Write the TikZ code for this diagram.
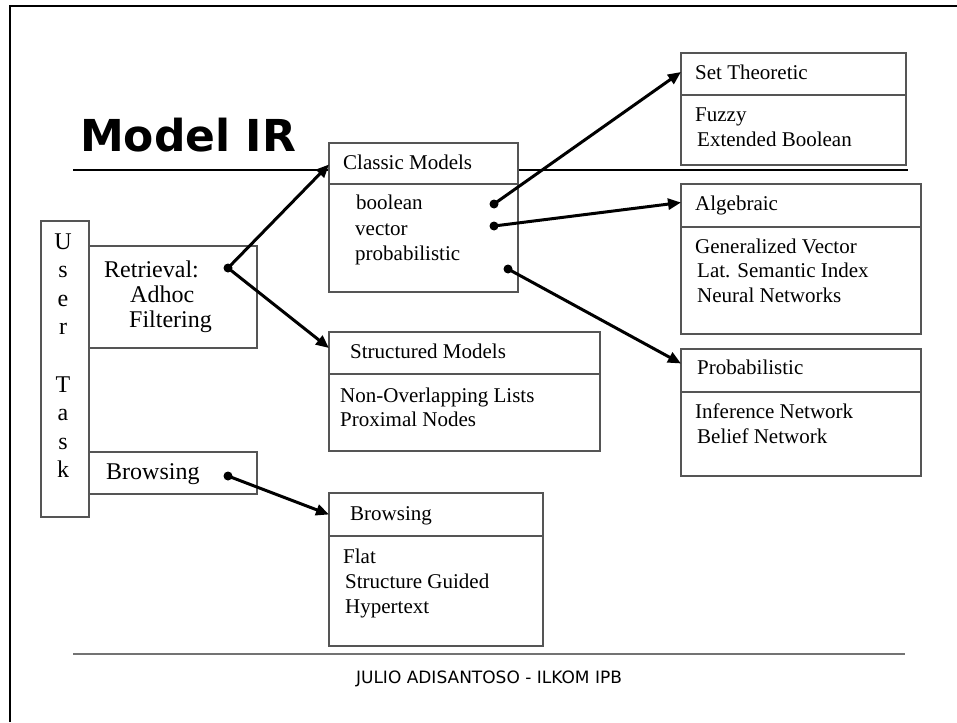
\documentclass[tikz,border=0pt]{standalone}
\usepackage{fontspec}
\setmainfont{Liberation Serif}
\newfontfamily\headfont{DejaVu Sans}
\usetikzlibrary{arrows.meta}
\definecolor{boxline}{RGB}{85,85,85}
\definecolor{rulegray}{RGB}{115,115,115}

\begin{document}
\begin{tikzpicture}[x=1pt,y=-1pt,
  box/.style={draw=boxline, line width=1.4pt, fill=white, anchor=north west,
              inner sep=0pt, outer sep=0pt},
  lbl/.style={anchor=base west, inner sep=0pt, font=\fontsize{21}{24}\selectfont},
  big/.style={anchor=base west, inner sep=0pt, font=\fontsize{24}{28}\selectfont},
  dot/.style={circle, fill=black, inner sep=0pt, minimum size=9pt},
  link/.style={line width=3pt, -{Triangle[length=13pt,width=11pt]}}
]
\useasboundingbox (0,0) rectangle (957,722);

% page frame (left and top edges)
\draw[line width=2.2pt] (10,722) -- (10,6) -- (957,6);

% title and rules
\node[anchor=base west, inner sep=0pt,
      font=\headfont\bfseries\fontsize{44}{50}\selectfont] (title) at (80,152) {Model IR};
\draw[line width=1.1pt] (73,170) -- (908,170);
\draw[rulegray, line width=2pt] (73,654) -- (905,654);
\node[anchor=base, inner sep=0pt, font=\headfont\fontsize{17}{20}\selectfont]
  (footer) at (489,683) {JULIO ADISANTOSO - ILKOM IPB};

% user task column
\node[box, minimum width=48pt, minimum height=296pt] (user) at (41,221) {};
\foreach \ch [count=\i from 0] in {U,s,e,r,{},T,a,s,k}
  \node[big, anchor=base] at (63,249+28.6*\i) {\ch};

% task boxes
\node[box, minimum width=168pt, minimum height=102pt] (retr) at (89,246) {};
\node[big] at (104,277) {Retrieval:};
\node[big] at (130,302) {Adhoc};
\node[big] at (129,327) {Filtering};
\node[box, minimum width=168pt, minimum height=42pt] (brow) at (89,452) {};
\node[big] at (106,479) {Browsing};

% classic models
\node[box, minimum width=189pt, minimum height=41pt] (classicH) at (329,143) {};
\node[box, minimum width=189pt, minimum height=108pt] (classicB) at (329,184) {};
\node[lbl] at (343,169) {Classic Models};
\node[lbl] at (356,209) {boolean};
\node[lbl] at (355,235) {vector};
\node[lbl] at (355,260) {probabilistic};

% set theoretic
\node[box, minimum width=225pt, minimum height=42pt] (setH) at (681,53) {};
\node[box, minimum width=225pt, minimum height=70pt] (setB) at (681,95) {};
\node[lbl] at (695,80) {Set Theoretic};
\node[lbl] at (695,122) {Fuzzy};
\node[lbl] at (697,147) {Extended Boolean};

% algebraic
\node[box, minimum width=240pt, minimum height=43pt] (algH) at (681,184) {};
\node[box, minimum width=240pt, minimum height=107pt] (algB) at (681,227) {};
\node[lbl] at (695,210) {Algebraic};
\node[lbl] at (695,253) {Generalized Vector};
\node[lbl] at (697,277) {Lat. Semantic Index};
\node[lbl] at (697,302) {Neural Networks};

% probabilistic
\node[box, minimum width=240pt, minimum height=43pt] (probH) at (681,349) {};
\node[box, minimum width=240pt, minimum height=84pt] (probB) at (681,392) {};
\node[lbl] at (697,374) {Probabilistic};
\node[lbl] at (695,418) {Inference Network};
\node[lbl] at (697,443) {Belief Network};

% structured models
\node[box, minimum width=271pt, minimum height=42pt] (structH) at (329,332) {};
\node[box, minimum width=271pt, minimum height=77pt] (structB) at (329,374) {};
\node[lbl] at (350,358) {Structured Models};
\node[lbl] at (340,402) {Non-Overlapping Lists};
\node[lbl] at (340,426) {Proximal Nodes};

% browsing models
\node[box, minimum width=214pt, minimum height=43pt] (browH) at (329,493) {};
\node[box, minimum width=214pt, minimum height=110pt] (browB) at (329,536) {};
\node[lbl] at (350,520) {Browsing};
\node[lbl] at (343,563) {Flat};
\node[lbl] at (345,588) {Structure Guided};
\node[lbl] at (345,613) {Hypertext};

% connector start points
\node[dot] (dRetr) at (228,268) {};
\node[dot] (dBrow) at (228,476) {};
\node[dot] (dBool) at (494,204) {};
\node[dot] (dVec) at (494,226) {};
\node[dot] (dProb) at (508,269) {};

% connectors
\draw[link] (dRetr.center) -- ([yshift=-1pt]classicH.west);
\draw[link] (dRetr.center) -- ([yshift=5pt]structH.west);
\draw[link] (dBrow.center) -- (browH.west);
\draw[link] (dBool.center) -- ([yshift=2pt]setH.west);
\draw[link] (dVec.center) -- ([yshift=3pt]algH.west);
\draw[link] (dProb.center) -- ([yshift=7pt]probH.west);
\end{tikzpicture}
\end{document}
